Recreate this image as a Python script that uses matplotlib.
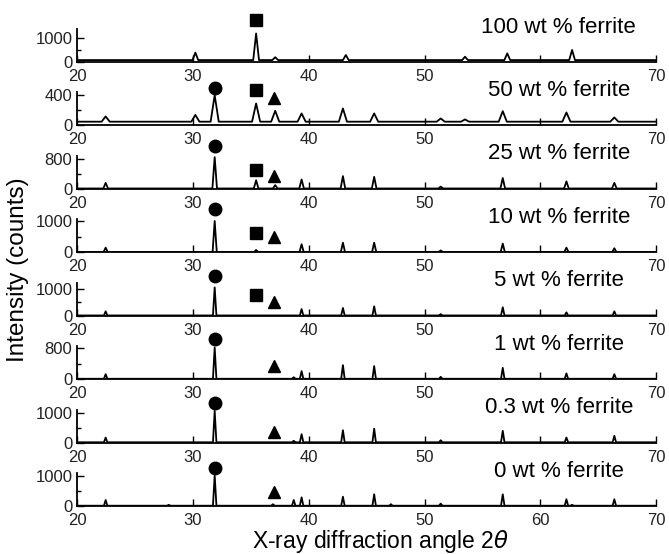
import numpy as np
import matplotlib
matplotlib.use('Agg')
import matplotlib.pyplot as plt
from matplotlib.ticker import MultipleLocator

plt.rcParams['font.family'] = ['Liberation Sans', 'DejaVu Sans']

# peak positions (2 theta, deg)
peak_pos = [22.45, 27.9, 30.2, 31.87, 35.45, 36.9, 37.1, 38.7, 39.38, 42.95, 43.2,
            45.65, 47.1, 51.4, 53.5, 56.76, 57.15, 62.26, 62.75, 65.3, 66.4]

# peak heights above background (counts), one list per sample, same order as peak_pos
h_100 = [0, 0, 310, 0, 1110, 0, 120, 0, 0, 0, 210, 0, 0, 0, 140, 0, 280, 0, 420, 0, 0]
h_50 = [70, 0, 90, 354, 243, 0, 145, 0, 110, 176, 0, 110, 0, 43, 30, 140, 0, 123, 0, 0, 56]
h_25 = [150, 0, 0, 835, 220, 0, 90, 0, 240, 330, 0, 310, 0, 50, 0, 280, 0, 190, 0, 0, 150]
h_10 = [140, 0, 0, 1000, 65, 0, 0, 0, 250, 300, 0, 300, 0, 50, 0, 270, 0, 140, 0, 0, 120]
h_5 = [155, 0, 0, 1050, 0, 0, 0, 0, 240, 280, 0, 340, 0, 50, 0, 305, 0, 115, 0, 0, 155]
h_1 = [120, 0, 0, 815, 0, 0, 0, 40, 200, 355, 0, 330, 0, 50, 0, 285, 0, 140, 0, 0, 120]
h_03 = [160, 0, 0, 1070, 0, 0, 0, 50, 275, 410, 0, 465, 0, 70, 0, 390, 0, 160, 0, 0, 220]
h_0 = [190, 30, 0, 1020, 0, 50, 0, 190, 280, 300, 0, 380, 50, 70, 0, 380, 0, 215, 30, 0, 215]

heights = [h_100, h_50, h_25, h_10, h_5, h_1, h_03, h_0]
background = [80, 50, 10, 10, 10, 10, 10, 10]
peak_width = [0.25, 0.35, 0.2, 0.18, 0.15, 0.15, 0.15, 0.15]

labels = ['100 wt % ferrite', '50 wt % ferrite', '25 wt % ferrite', '10 wt % ferrite',
          '5 wt % ferrite', '1 wt % ferrite', '0.3 wt % ferrite', '0 wt % ferrite']
ytop_tick = [1000, 400, 800, 1000, 1000, 800, 1000, 1000]
ylim_top = [1375, 440, 880, 1065, 1236, 860, 1122, 1100]

# phase markers: position and height (counts), None = not drawn
circle_x, square_x, triangle_x = 31.87, 35.4, 37.0
circle_h = [None, 502, 1140, 1390, 1477, 1058, 1360, 1255]
square_h = [1750, 470, 515, 635, 776, None, None, None]
triangle_h = [None, 360, 340, 507, 500, 338, 364, 477]


def pattern(pos, h, bg, w):
    # background line with a triangular profile at every peak
    xs, ys = [20.0], [bg]
    for p, v in sorted(zip(pos, h)):
        if v <= 0:
            continue
        xs += [p - w, p, p + w]
        ys += [bg, bg + v, bg]
    xs.append(70.0)
    ys.append(bg)
    return xs, ys


fig = plt.figure(figsize=(6.69, 5.54), dpi=100)
W, H = 669.0, 554.0
left_px, right_px = 77.3, 656.0
base0, step, panel_h = 62.0, 63.43, 33.0

for i in range(8):
    base = base0 + step * i
    ax = fig.add_axes([left_px / W, (H - base) / H, (right_px - left_px) / W, panel_h / H])
    xs, ys = pattern(peak_pos, heights[i], background[i], peak_width[i])
    ax.plot(xs, ys, color='black', lw=1.3)

    if circle_h[i] is not None:
        ax.plot(circle_x, circle_h[i], 'o', color='black', ms=9, clip_on=False)
    if square_h[i] is not None:
        ax.plot(square_x, square_h[i], 's', color='black', ms=8, clip_on=False)
    if triangle_h[i] is not None:
        ax.plot(triangle_x, triangle_h[i], '^', color='black', ms=8, clip_on=False)

    ax.set_xlim(20, 70)
    ax.set_ylim(0, ylim_top[i])
    ax.set_xticks([20, 30, 40, 50, 60, 70])
    if i < 7:
        ax.set_xticklabels(['20', '30', '40', '50', '', '70'])
    ax.set_yticks([0, ytop_tick[i]])
    ax.yaxis.set_minor_locator(MultipleLocator(ytop_tick[i] / 2))
    ax.tick_params(axis='x', direction='in', length=5, width=1, labelsize=12, pad=5,
                   labelcolor='#222222')
    ax.tick_params(axis='y', which='major', direction='in', length=5, width=1, labelsize=12,
                   labelcolor='#222222')
    ax.tick_params(axis='y', which='minor', direction='in', length=3, width=1)
    for s in ['top', 'right']:
        ax.spines[s].set_visible(False)
    for s in ['left', 'bottom']:
        ax.spines[s].set_linewidth(1.3)
    ax.patch.set_alpha(0)

    ax.text(61.6, 1.06, labels[i], transform=ax.get_xaxis_transform(),
            ha='center', va='center', fontsize=16)

fig.text(381 / W, 1 - 548 / H, r'X-ray diffraction angle 2$\theta$', ha='center', va='baseline', fontsize=16.5)
fig.text(18 / W, 1 - 270 / H, 'Intensity (counts)', ha='center', va='center', rotation=90, fontsize=17.5)

fig.savefig('out.png', dpi=100)
